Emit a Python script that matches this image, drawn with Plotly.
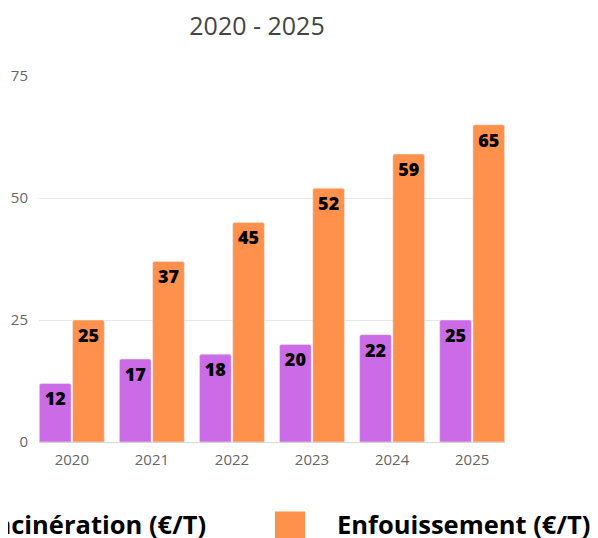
import plotly.graph_objects as go

years = ["2020", "2021", "2022", "2023", "2024", "2025"]
incineration = [12, 17, 18, 20, 22, 25]
enfouissement = [25, 37, 45, 52, 59, 65]
names = ["Incinération (€/T)", "Enfouissement (€/T)"]
colors = ["#cb6ce6", "#ff914d"]

W, H = 598, 538
OFF = 8  # the page body keeps its default 8px margin
L, T = 39 - OFF, 76 - OFF
R, B = W - (505 - OFF), H - (442.5 - OFF)
pw, ph = W - L - R, H - T - B

def px_x(x):
    # window pixel -> paper x
    return (x - OFF - L) / pw

def px_y(y):
    # window pixel -> paper y
    return (H - B - (y - OFF)) / ph

fig = go.Figure()
for name, vals, col in zip(names, [incineration, enfouissement], colors):
    fig.add_bar(
        name=name, x=years, y=vals, marker_color=col,
        text=vals, textposition="inside", insidetextanchor="end",
        textfont=dict(family="Open Sans", size=18, color="black", weight=800),
        textangle=0, showlegend=False,
    )

# hand-made legend (it is wider than the picture, so it is cut at the edges)
legend_items = [
    dict(sw=(-72, -42), tx=208, anchor="right"),
    dict(sw=(275, 305), tx=335, anchor="left"),
]
for name, col, it in zip(names, colors, legend_items):
    fig.add_shape(type="rect", xref="paper", yref="paper",
                  x0=px_x(it["sw"][0]), x1=px_x(it["sw"][1]),
                  y0=px_y(512), y1=px_y(545),
                  fillcolor=col, line_width=0, layer="above")
    fig.add_annotation(text=name, xref="paper", yref="paper",
                       x=px_x(it["tx"]), y=px_y(525), xanchor=it["anchor"],
                       yanchor="middle", showarrow=False,
                       font=dict(family="Open Sans", size=25.5, color="black", weight=700))

fig.update_layout(
    width=W, height=H,
    margin=dict(l=L, r=R, t=T, b=B),
    title=dict(text="2020 - 2025", x=(257 - OFF) / W, xanchor="center",
               y=1 - (26 - OFF) / H, yanchor="middle",
               font=dict(family="Open Sans", size=25, color="#444")),
    barmode="group", bargap=0.17, bargroupgap=0.045, barcornerradius=2,
    plot_bgcolor="white", paper_bgcolor="white",
    font=dict(family="Open Sans", color="#666", size=15),
    showlegend=False,
)
fig.update_yaxes(range=[0, 75], tickvals=[0, 25, 50, 75], gridcolor="#e6e6e6",
                 zeroline=False, ticks="", ticklabelstandoff=10, automargin=False)
fig.update_xaxes(range=[-0.41, 5.41], showline=True, linecolor="#d6d6d6",
                 ticks="", ticklabelstandoff=4, automargin=False)

fig.write_html("out.html")
